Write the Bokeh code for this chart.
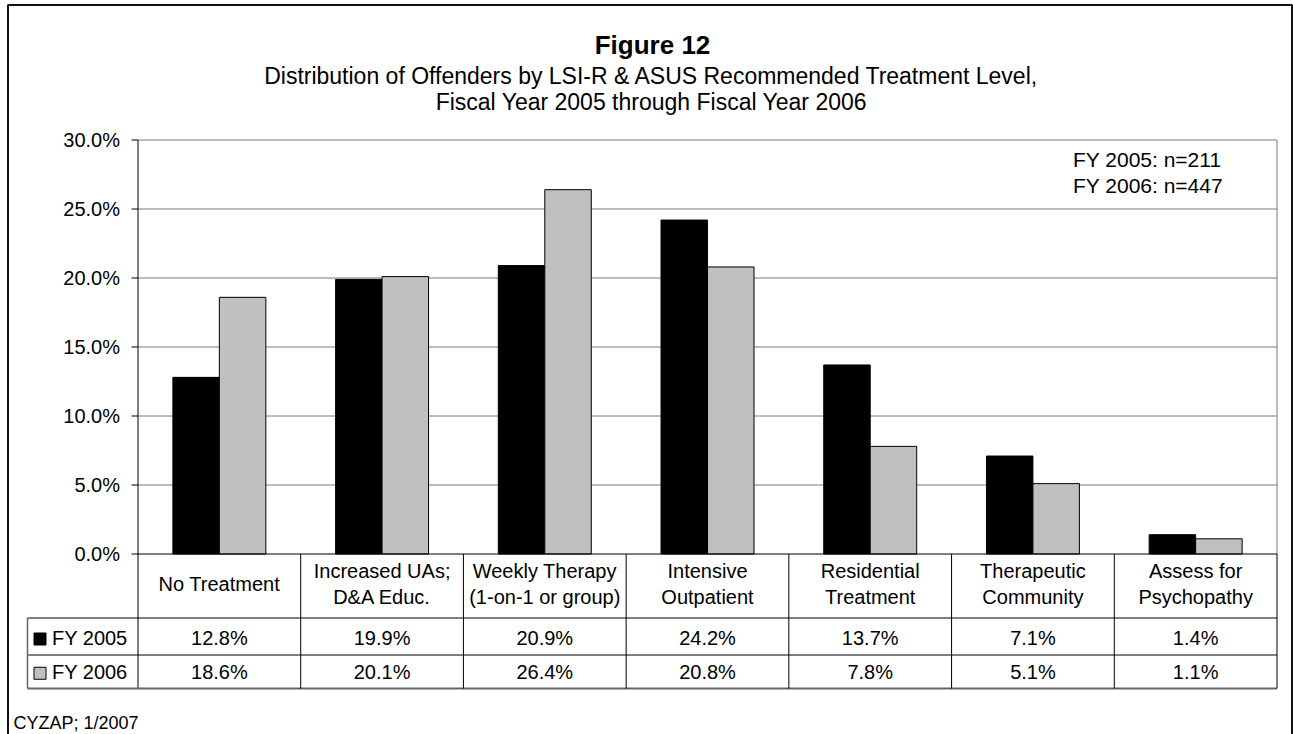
from bokeh.plotting import figure
from bokeh.models import Range1d
from bokeh.embed import file_html
from bokeh.resources import INLINE
from bokeh.core.properties import value

# ---- data -------------------------------------------------------------
categories = [
    "No Treatment",
    "Increased UAs;\nD&A Educ.",
    "Weekly Therapy\n(1-on-1 or group)",
    "Intensive\nOutpatient",
    "Residential\nTreatment",
    "Therapeutic\nCommunity",
    "Assess for\nPsychopathy",
]
fy2005 = [12.8, 19.9, 20.9, 24.2, 13.7, 7.1, 1.4]
fy2006 = [18.6, 20.1, 26.4, 20.8, 7.8, 5.1, 1.1]
series_names = ["FY 2005", "FY 2006"]
sample_sizes = [211, 447]
y_ticks = [0, 5, 10, 15, 20, 25, 30]
title_text = "Figure 12"
subtitle_lines = [
    "Distribution of Offenders by LSI-R & ASUS Recommended Treatment Level,",
    "Fiscal Year 2005 through Fiscal Year 2006",
]
source_note = "CYZAP; 1/2007"

# ---- layout (pixels) --------------------------------------------------
W, H = 1293, 734
PLOT_L, PLOT_R = 137.5, 1276.5
PLOT_T, PLOT_B = 139.5, 553.5
Y_MAX = 30.0
HEADER_MID = 583.5
ROW_LINES = [617.5, 654.5, 688.0]
LEG_L = 27.0
FONT = value("Liberation Sans")
BODY = 20

series_colors = ["#000000", "#C0C0C0"]
grid_color = "#7a7a7a"

n = len(categories)
cw = (PLOT_R - PLOT_L) / n
k = (PLOT_B - PLOT_T) / Y_MAX

p = figure(
    width=W, height=H,
    x_range=Range1d(0, W), y_range=Range1d(H, 0),
    output_backend="svg", toolbar_location=None,
    x_axis_location=None, y_axis_location=None,
    min_border=0, outline_line_color=None,
    background_fill_color="white", border_fill_color="white",
)
p.xgrid.visible = False
p.ygrid.visible = False
p.extra_x_ranges = {"cat": Range1d(-PLOT_L / cw, (W - PLOT_L) / cw)}
p.extra_y_ranges = {"pct": Range1d(-(H - PLOT_B) / k, PLOT_B / k)}

# outer chart border
p.quad(left=7.5, right=1291.5, top=4.5, bottom=H + 20,
       fill_color=None, line_color="#111111", line_width=2)

# horizontal gridlines and right edge of the plot area
grid_vals = [t for t in y_ticks if t > 0]
p.segment(x0=0, x1=n, y0=grid_vals, y1=grid_vals,
          x_range_name="cat", y_range_name="pct",
          line_color=grid_color, line_width=1)
p.segment(x0=n, x1=n, y0=0, y1=Y_MAX,
          x_range_name="cat", y_range_name="pct",
          line_color=grid_color, line_width=1)

# bars
bw = 1 / 3.5
centers = [i + 0.5 for i in range(n)]
for j, (vals, col) in enumerate(zip([fy2005, fy2006], series_colors)):
    xs = [c + (j - 0.5) * bw for c in centers]
    p.vbar(x=xs, top=vals, bottom=0, width=bw,
           x_range_name="cat", y_range_name="pct",
           fill_color=col, line_color="black", line_width=1)

# y axis: line, ticks, labels
p.segment(x0=0, x1=0, y0=PLOT_T, y1=ROW_LINES[-1],
          x_range_name="cat", line_color="black", line_width=1)
p.segment(x0=131, x1=PLOT_L, y0=y_ticks, y1=y_ticks,
          y_range_name="pct", line_color="black", line_width=1)
p.text(x=119.5, y=y_ticks, text=[f"{t:.1f}%" for t in y_ticks],
       y_range_name="pct",
       text_font=FONT, text_font_size=f"{BODY}px",
       text_align="right", text_baseline="alphabetic", text_color="black")

# data table: grid lines
p.segment(x0=0, x1=n, y0=PLOT_B, y1=PLOT_B,
          x_range_name="cat", line_color="black", line_width=1)
leg_l = (LEG_L - PLOT_L) / cw
p.segment(x0=leg_l, x1=n, y0=ROW_LINES[:2], y1=ROW_LINES[:2],
          x_range_name="cat", line_color="black", line_width=1)
p.segment(x0=leg_l, x1=n, y0=ROW_LINES[2], y1=ROW_LINES[2],
          x_range_name="cat", line_color="#666666", line_width=2)
p.segment(x0=leg_l, x1=leg_l, y0=ROW_LINES[0], y1=ROW_LINES[2],
          x_range_name="cat", line_color="#666666", line_width=1.5)
p.segment(x0=list(range(1, n + 1)), x1=list(range(1, n + 1)),
          y0=PLOT_B, y1=ROW_LINES[2],
          x_range_name="cat", line_color="black", line_width=1)

# data table: category headers
hx, hy, ht = [], [], []
for c, label in zip(centers, categories):
    parts = label.split("\n")
    m = len(parts)
    for i, part in enumerate(parts):
        hx.append(c)
        hy.append(HEADER_MID + (i - (m - 1) / 2) * 26.8)
        ht.append(part)
p.text(x=hx, y=hy, text=ht, x_range_name="cat",
       text_font=FONT, text_font_size=f"{BODY}px",
       text_align="center", text_baseline="alphabetic", text_color="black")

# data table: value rows with legend keys
row_mids = [(ROW_LINES[0] + ROW_LINES[1]) / 2 + 1, (ROW_LINES[1] + ROW_LINES[2]) / 2]
for vals, name, col, ym in zip([fy2005, fy2006], series_names, series_colors, row_mids):
    p.text(x=centers, y=ym, text=[f"{v:.1f}%" for v in vals],
           x_range_name="cat",
           text_font=FONT, text_font_size=f"{BODY}px",
           text_align="center", text_baseline="alphabetic", text_color="black")
    p.scatter(x=39.5, y=ym + 1.5, marker="square", size=12,
              fill_color=col, line_color="black", line_width=1)
    p.text(x=51.5, y=ym, text=[name],
           text_font=FONT, text_font_size=f"{BODY}px",
           text_align="left", text_baseline="alphabetic", text_color="black")

# sample sizes
p.text(x=1072.5, y=[158.5, 185], 
       text=[f"{s}: n={m}" for s, m in zip(series_names, sample_sizes)],
       text_font=FONT, text_font_size="21px",
       text_align="left", text_baseline="alphabetic", text_color="black")

# titles
p.text(x=652, y=44, text=[title_text],
       text_font=FONT, text_font_size="26px", text_font_style="bold",
       text_align="center", text_baseline="alphabetic", text_color="black")
p.text(x=651, y=[75, 101.5], text=subtitle_lines,
       text_font=FONT, text_font_size="23px",
       text_align="center", text_baseline="alphabetic", text_color="black")

# source note
p.text(x=13, y=[722], text=[source_note],
       text_font=FONT, text_font_size="18px",
       text_align="left", text_baseline="alphabetic", text_color="black")

open("out.html", "w").write(file_html(p, INLINE))
